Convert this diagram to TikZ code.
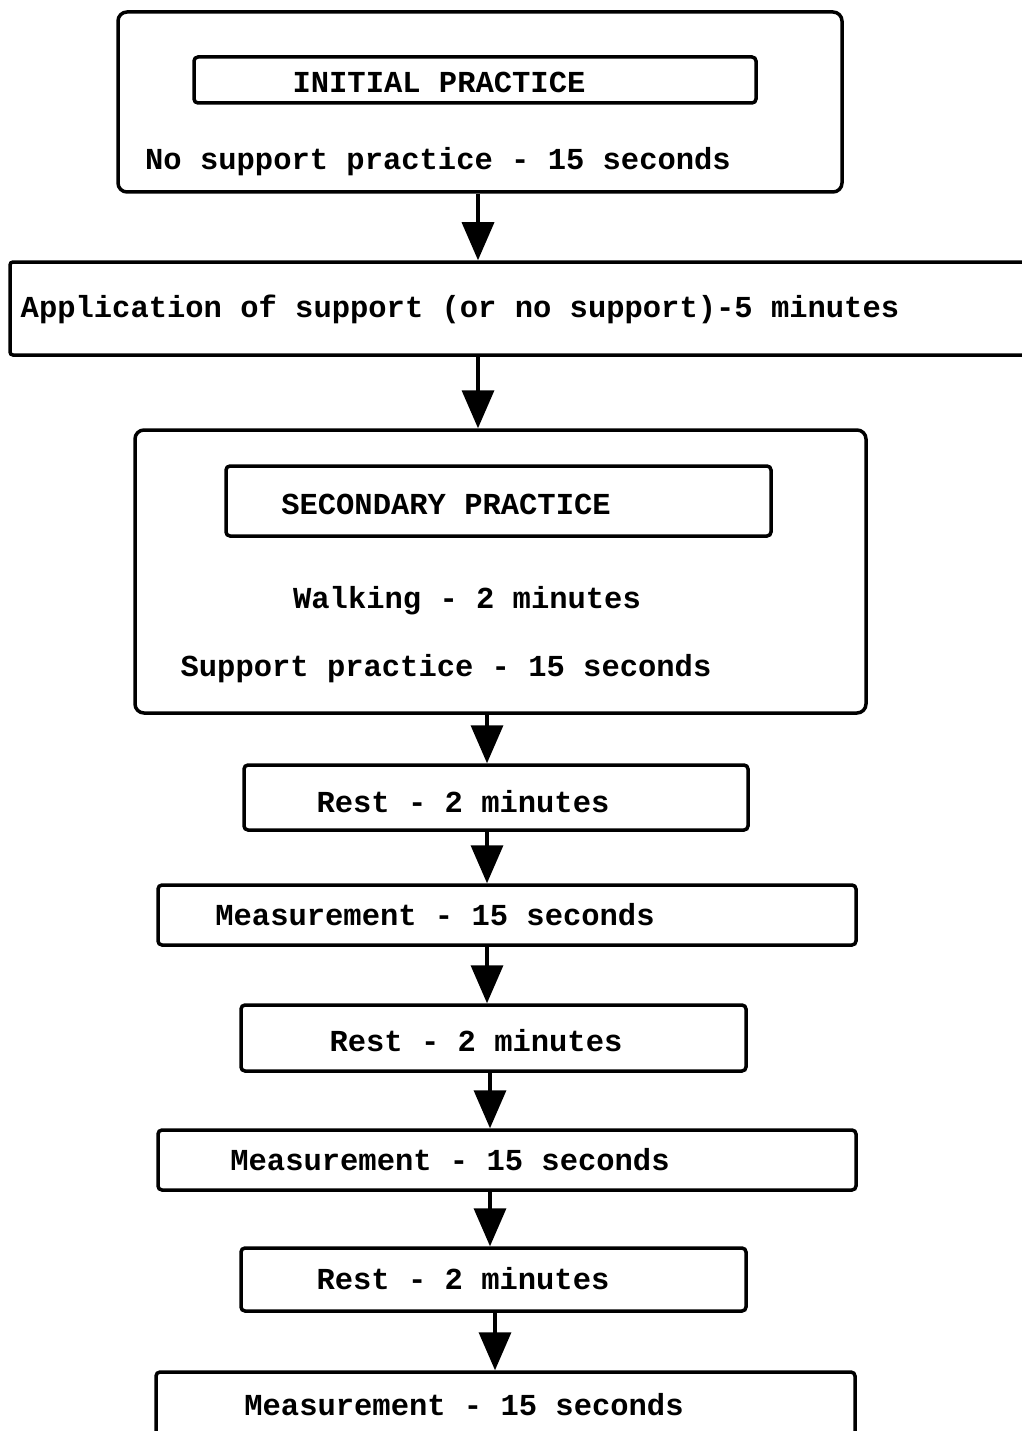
\documentclass[tikz,border=0pt]{standalone}
\usepackage{fontspec}
\setmonofont{Liberation Mono}
\usetikzlibrary{arrows.meta,positioning}

\tikzset{
  box/.style={draw,line width=3.5pt,rounded corners=4pt,inner sep=0pt},
  bigbox/.style={box,rounded corners=9pt},
  txt/.style={font=\fontsize{30.5}{34}\selectfont\ttfamily\bfseries,inner sep=0pt,anchor=base},
  flow/.style={line width=3.5pt,-{Triangle[length=38pt,width=32pt]}},
}

\begin{document}
\begin{tikzpicture}[x=1pt,y=-1pt]
  \useasboundingbox (0,0) rectangle (1021,1431);
  % initial practice
  \node[bigbox,minimum width=724pt,minimum height=180pt] (initbox) at (480,102) {};
  \node[box,minimum width=562pt,minimum height=46pt] (inithead) at (475,80) {};
  \node[txt] (inittxt) at (439,93) {INITIAL PRACTICE};
  \node[txt] (initsub) at (438,170) {No support practice - 15 seconds};
  % application of support
  \node[box,rounded corners=3pt,minimum width=1016pt,minimum height=93pt] (applybox) at (518,308.5) {};
  \node[txt] (applytxt) at (460,317) {Application of support (or no support)-5 minutes};
  % secondary practice
  \node[bigbox,minimum width=731pt,minimum height=283pt] (secbox) at (500.5,571.5) {};
  \node[box,minimum width=545pt,minimum height=70pt] (sechead) at (498.5,501) {};
  \node[txt] (sectxt) at (446,514) {SECONDARY PRACTICE};
  \node[txt] (walktxt) at (467,608) {Walking - 2 minutes};
  \node[txt] (supptxt) at (446,676) {Support practice - 15 seconds};
  % rest / measurement
  \node[box,minimum width=504pt,minimum height=65pt] (rest1) at (496,797.5) {};
  \node[txt] (rest1txt) at (463,812) {Rest - 2 minutes};
  \node[box,minimum width=698pt,minimum height=60pt] (meas1) at (507,915) {};
  \node[txt] (meas1txt) at (435,925) {Measurement - 15 seconds};
  \node[box,minimum width=505pt,minimum height=66pt] (rest2) at (493.5,1038) {};
  \node[txt] (rest2txt) at (476,1051) {Rest - 2 minutes};
  \node[box,minimum width=698pt,minimum height=60pt] (meas2) at (507,1160) {};
  \node[txt] (meas2txt) at (450,1170) {Measurement - 15 seconds};
  \node[box,minimum width=505pt,minimum height=63pt] (rest3) at (493.5,1279.5) {};
  \node[txt] (rest3txt) at (463,1289) {Rest - 2 minutes};
  \node[box,minimum width=699pt,minimum height=68pt] (meas3) at (505.5,1406) {};
  \node[txt] (meas3txt) at (464,1415) {Measurement - 15 seconds};
  % arrows
  \coordinate (colA) at (478,0);
  \coordinate (colB) at (487,0);
  \coordinate (colC) at (490,0);
  \coordinate (colD) at (495,0);
  \draw[flow] (initbox.south -| colA) -- (applybox.north -| colA);
  \draw[flow] (applybox.south -| colA) -- (secbox.north -| colA);
  \draw[flow] (secbox.south -| colB) -- (rest1.north -| colB);
  \draw[flow] (rest1.south -| colB) -- (meas1.north -| colB);
  \draw[flow] (meas1.south -| colB) -- (rest2.north -| colB);
  \draw[flow] (rest2.south -| colC) -- (meas2.north -| colC);
  \draw[flow] (meas2.south -| colC) -- (rest3.north -| colC);
  \draw[flow] (rest3.south -| colD) -- (meas3.north -| colD);
\end{tikzpicture}
\end{document}
